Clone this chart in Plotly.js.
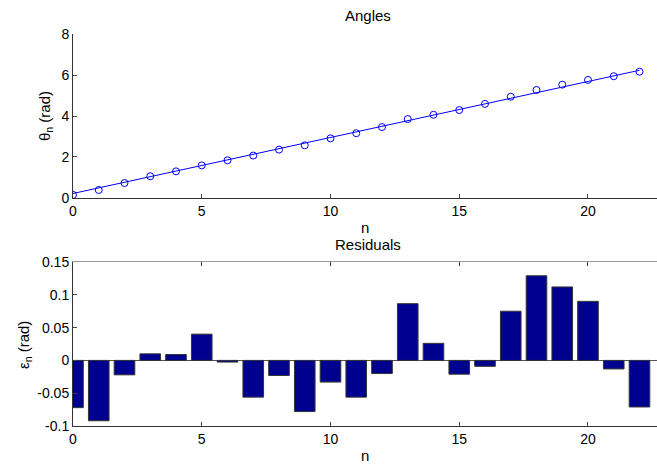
<!DOCTYPE html>
<html><head><meta charset="utf-8">
<script src="https://cdn.plot.ly/plotly-3.0.1.min.js"></script>
<style>html,body{margin:0;padding:0;background:#fff}</style>
</head><body>
<div id="chart" style="width:657px;height:464px"></div>
<script>
const n = [0,1,2,3,4,5,6,7,8,9,10,11,12,13,14,15,16,17,18,19,20,21,22];
const theta = [0.15,0.39,0.73,1.06,1.30,1.59,1.84,2.07,2.36,2.57,2.91,3.16,3.46,3.85,4.06,4.29,4.59,4.94,5.27,5.53,5.76,5.94,6.16];
const fitN = [0, 22];
const fitTheta = [0.22, 6.23];
const residuals = [-0.072,-0.092,-0.022,0.010,0.009,0.040,-0.0025,-0.056,-0.023,-0.078,-0.033,-0.056,-0.020,0.0865,0.026,-0.021,-0.009,0.075,0.129,0.112,0.090,-0.013,-0.071];
const xTicks = [0,5,10,15,20];
const yTicksTop = [0,2,4,6,8];
const yTicksBot = [-0.1,-0.05,0,0.05,0.1,0.15];
const yTicksBotText = ['-0.1','-0.05','0','0.05','0.1','0.15'];

const font = {family:'Liberation Sans, Arial, sans-serif', size:14, color:'#000'};
const tfont = {family:'Liberation Sans, Arial, sans-serif', size:15, color:'#000'};
const axCommon = {ticks:'inside', ticklen:4, tickcolor:'#444', tickwidth:1, showline:true, linecolor:'#333', linewidth:1, showgrid:false, zeroline:false, tickfont:font};

const traces = [
  {x:fitN, y:fitTheta, type:'scatter', mode:'lines', line:{color:'#0000ff', width:1}, xaxis:'x', yaxis:'y', hoverinfo:'skip'},
  {x:n, y:theta, type:'scatter', mode:'markers', marker:{symbol:'circle-open', size:7, color:'#0000ff', line:{width:1}}, xaxis:'x', yaxis:'y'},
  {x:n, y:residuals, type:'bar', width:0.8, marker:{color:'rgb(0,0,143)', line:{color:'#333', width:1}}, xaxis:'x2', yaxis:'y2'},
  {x:[0], y:[0], type:'scatter', mode:'markers', marker:{opacity:0}, xaxis:'x3', yaxis:'y2', hoverinfo:'skip'}
];

function ann(text, px, py, extra) {
  return Object.assign({text:text, x:px/657, y:1-py/464, xref:'paper', yref:'paper', xanchor:'center', yanchor:'middle', showarrow:false, font:tfont}, extra||{});
}

const layout = {
  width:657, height:464, margin:{l:0,r:0,t:0,b:0}, showlegend:false,
  paper_bgcolor:'#fff', plot_bgcolor:'#fff', font:font,
  xaxis: Object.assign({}, axCommon, {domain:[73/657,1], range:[0,22.68], tickvals:xTicks, anchor:'y'}),
  yaxis: Object.assign({}, axCommon, {domain:[0.5733,0.9267], range:[0,8], tickvals:yTicksTop, anchor:'x'}),
  xaxis2: Object.assign({}, axCommon, {domain:[73/657,1], range:[0,22.68], tickvals:xTicks, anchor:'y2'}),
  yaxis2: Object.assign({}, axCommon, {domain:[0.0819,0.4353], range:[-0.1,0.15], tickvals:yTicksBot, ticktext:yTicksBotText, anchor:'x2', zeroline:true, zerolinecolor:'#555', zerolinewidth:1}),
  xaxis3: Object.assign({}, axCommon, {overlaying:'x2', side:'top', anchor:'y2', range:[0,22.68], tickvals:xTicks, showticklabels:false, linecolor:'#999', tickcolor:'#333'}),
  annotations:[
    ann('Angles', 368, 16),
    ann('n', 365, 227),
    ann('Residuals', 368, 244),
    ann('n', 365, 455),
    ann('θ<sub>n</sub> (rad)', 45, 116, {textangle:-90}),
    ann('ε<sub>n</sub> (rad)', 24, 345, {textangle:-90})
  ]
};
Plotly.newPlot('chart', traces, layout, {displayModeBar:false, staticPlot:true});
</script>
</body></html>
